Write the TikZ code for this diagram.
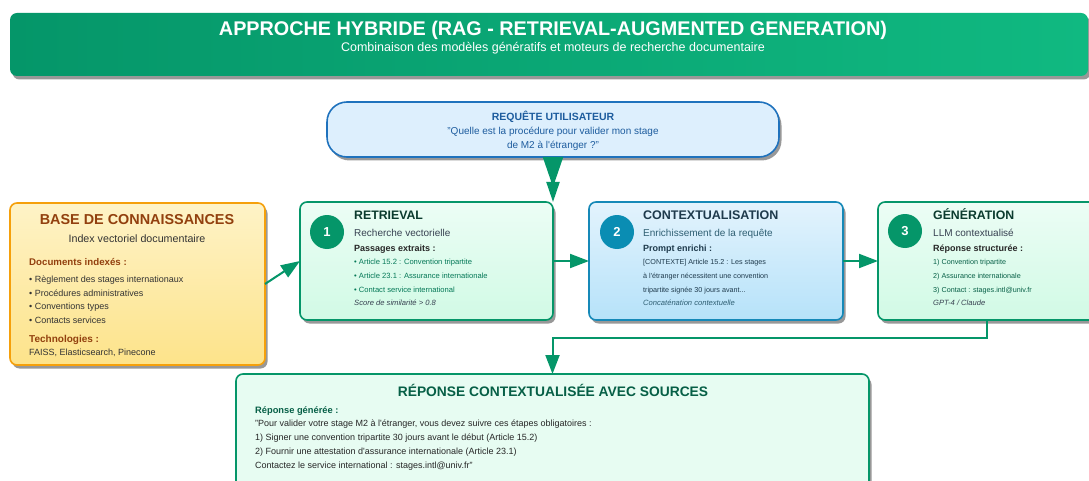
\documentclass[tikz,border=0pt]{standalone}
\usepackage{fontspec}
\setmainfont{Liberation Sans}
\usetikzlibrary{shadows,arrows.meta}

\definecolor{emerald}{HTML}{059669}
\definecolor{emeraldlight}{HTML}{10B981}
\definecolor{mintA}{HTML}{ECFDF5}
\definecolor{mintB}{HTML}{D1FAE5}
\definecolor{skyA}{HTML}{E3F3FD}
\definecolor{skyB}{HTML}{B6E2F9}
\definecolor{skyline}{HTML}{1689B8}
\definecolor{tealdot}{HTML}{0A8DB3}
\definecolor{reqfill}{HTML}{DDEFFD}
\definecolor{reqline}{HTML}{1F72BD}
\definecolor{reqtext}{HTML}{1D5C9E}
\definecolor{amberA}{HTML}{FEF3C7}
\definecolor{amberB}{HTML}{FDE38A}
\definecolor{amberline}{HTML}{F5A00B}
\definecolor{brown}{HTML}{92400E}
\definecolor{inkgreen}{HTML}{0B3B2E}
\definecolor{leaf}{HTML}{047857}
\definecolor{deepgreen}{HTML}{065F46}
\definecolor{slate}{HTML}{1E3A4C}
\definecolor{slatesoft}{HTML}{2F5F73}
\definecolor{greytext}{HTML}{374151}

\newcommand{\fs}[1]{\fontsize{#1}{#1}\selectfont}

\begin{document}
\begin{tikzpicture}[x=1pt,y=-1pt,
  box/.style={rounded corners=7pt, line width=1.6pt, inner sep=0pt, outer sep=0pt, anchor=north west},
  shade drop/.style={drop shadow={shadow xshift=2.5pt, shadow yshift=-3.5pt, fill=black!80, opacity=0.5}},
  % texts are placed by their baseline
  txt/.style={inner sep=0pt, anchor=base west},
  ctxt/.style={inner sep=0pt, anchor=base},
  badge/.style={circle, minimum size=34pt, inner sep=0pt, text=white, font=\bfseries\fs{13}},
  flow/.style={draw=emerald, line width=2pt, -{Triangle[width=14pt,length=19pt]}},
]
\useasboundingbox (0,0) rectangle (1089,481);
\clip (0,0) rectangle (1089,481);
\fill[white] (0,0) rectangle (1089,481);

% banner
\node[box, draw=none, left color=emerald, right color=emeraldlight,
      minimum width=1078pt, minimum height=63pt, shade drop] (hdr) at (10,13) {};
\node[ctxt, text=white, font=\bfseries\fs{19.8}] (hdrtitle) at (553,35.1)
  {APPROCHE HYBRIDE (RAG - RETRIEVAL-AUGMENTED GENERATION)};
\node[ctxt, text=white, font=\fs{12.5}] (hdrsub) at (553,52)
  {Combinaison des modèles génératifs et moteurs de recherche documentaire};

% user query
\node[box, rounded corners=20pt, draw=reqline, fill=reqfill,
      minimum width=452pt, minimum height=55pt, shade drop] (req) at (327,102) {};
\node[ctxt, text=reqtext, font=\bfseries\fs{10.5}] (reqtitle) at (553,120.8) {REQUÊTE UTILISATEUR};
\node[ctxt, text=reqtext, font=\fs{10}] (reqq1) at (553,134.2) {"Quelle est la procédure pour valider mon stage};
\node[ctxt, text=reqtext, font=\fs{10}] (reqq2) at (553,148.2) {de M2 à l\textquotesingle étranger ?"};

% knowledge base
\node[box, draw=amberline, top color=amberA, bottom color=amberB,
      minimum width=255pt, minimum height=162pt, shade drop] (kb) at (10,203) {};
\node[ctxt, text=brown, font=\bfseries\fs{14.4}] (kbtitle) at (137,224.2) {BASE DE CONNAISSANCES};
\node[ctxt, text=black!80, font=\fs{10.7}] (kbsub) at (137,242.4) {Index vectoriel documentaire};
\node[txt, text=brown, font=\bfseries\fs{9.7}] (kbdocs) at (29,265.1) {Documents indexés :};
\node[txt, text=black!80, font=\fs{9}] (kbd1) at (29,282.9) {• Règlement des stages internationaux};
\node[txt, text=black!80, font=\fs{9}] (kbd2) at (29,296.9) {• Procédures administratives};
\node[txt, text=black!80, font=\fs{9}] (kbd3) at (29,309.9) {• Conventions types};
\node[txt, text=black!80, font=\fs{9}] (kbd4) at (29,323.9) {• Contacts services};
\node[txt, text=brown, font=\bfseries\fs{10}] (kbtech) at (29,342.2) {Technologies :};
\node[txt, text=black!80, font=\fs{9}] (kbtechs) at (29,355.9) {FAISS, Elasticsearch, Pinecone};

% step 1: retrieval
\node[box, draw=emerald, top color=mintA, bottom color=mintB,
      minimum width=253pt, minimum height=118pt, shade drop] (ret) at (300,202) {};
\node[badge, fill=emerald] (retn) at (327,232) {1};
\node[txt, text=inkgreen, font=\bfseries\fs{12.3}] (rettitle) at (354,219.4) {RETRIEVAL};
\node[txt, text=greytext, font=\fs{10}] (retsub) at (354,236.2) {Recherche vectorielle};
\node[txt, text=black!85, font=\bfseries\fs{9}] (rethead) at (354,251.9) {Passages extraits :};
\node[txt, text=leaf, font=\fs{7.6}] (ret1) at (354,264.4) {• Article 15.2 : Convention tripartite};
\node[txt, text=leaf, font=\fs{7.6}] (ret2) at (354,278.4) {• Article 23.1 : Assurance internationale};
\node[txt, text=leaf, font=\fs{7.6}] (ret3) at (354,292.4) {• Contact service international};
\node[txt, text=greytext, font=\itshape\fs{7.6}] (retscore) at (354,305.4) {Score de similarité > 0.8};

% step 2: contextualisation
\node[box, draw=skyline, top color=skyA, bottom color=skyB,
      minimum width=254pt, minimum height=118pt, shade drop] (ctx) at (589,202) {};
\node[badge, fill=tealdot] (ctxn) at (617,232) {2};
\node[txt, text=slate, font=\bfseries\fs{12.5}] (ctxtitle) at (643,219.5) {CONTEXTUALISATION};
\node[txt, text=slatesoft, font=\fs{10}] (ctxsub) at (643,236.2) {Enrichissement de la requête};
\node[txt, text=slate, font=\bfseries\fs{9}] (ctxhead) at (643,251.9) {Prompt enrichi :};
\node[txt, text=slate, font=\fs{7.2}] (ctx1) at (643,264.3) {[CONTEXTE] Article 15.2 : Les stages};
\node[txt, text=slate, font=\fs{7.2}] (ctx2) at (643,278.3) {à l\textquotesingle étranger nécessitent une convention};
\node[txt, text=slate, font=\fs{7.2}] (ctx3) at (643,292.3) {tripartite signée 30 jours avant...};
\node[txt, text=slatesoft, font=\itshape\fs{7.6}] (ctxnote) at (643,305.4) {Concaténation contextuelle};

% step 3: generation
\node[box, draw=emerald, top color=mintA, bottom color=mintB,
      minimum width=218pt, minimum height=118pt, shade drop] (gen) at (878,202) {};
\node[badge, fill=emerald] (genn) at (905,231) {3};
\node[txt, text=inkgreen, font=\bfseries\fs{12.3}] (gentitle) at (933,219.4) {GÉNÉRATION};
\node[txt, text=greytext, font=\fs{10}] (gensub) at (933,236.2) {LLM contextualisé};
\node[txt, text=black!85, font=\bfseries\fs{9}] (genhead) at (933,251.9) {Réponse structurée :};
\node[txt, text=deepgreen, font=\fs{7.2}] (gen1) at (933,264.3) {1) Convention tripartite};
\node[txt, text=deepgreen, font=\fs{7.2}] (gen2) at (933,278.3) {2) Assurance internationale};
\node[txt, text=deepgreen, font=\fs{7.2}] (gen3) at (933,292.3) {3) Contact : stages.intl@univ.fr};
\node[txt, text=greytext, font=\itshape\fs{7.6}] (gennote) at (933,305.4) {GPT-4 / Claude};

% final answer
\node[box, draw=emerald, fill=mintA!80!mintB,
      minimum width=633pt, minimum height=115pt, shade drop] (resp) at (236,374) {};
\node[ctxt, text=deepgreen, font=\bfseries\fs{13.8}] (resptitle) at (553,396) {RÉPONSE CONTEXTUALISÉE AVEC SOURCES};
\node[txt, text=deepgreen, font=\bfseries\fs{9.3}] (resphead) at (255,413) {Réponse générée :};
\node[txt, text=black!85, font=\fs{9}] (resp1) at (255,426.9) {"Pour valider votre stage M2 à l\textquotesingle étranger, vous devez suivre ces étapes obligatoires :};
\node[txt, text=black!85, font=\fs{9}] (resp2) at (255,440.9) {1) Signer une convention tripartite 30 jours avant le début (Article 15.2)};
\node[txt, text=black!85, font=\fs{9}] (resp3) at (255,454.9) {2) Fournir une attestation d\textquotesingle assurance internationale (Article 23.1)};
\node[txt, text=black!85, font=\fs{9}] (resp4) at (255,468.9) {Contactez le service international : stages.intl@univ.fr"};

% connectors
\draw[draw=emerald, line width=2pt,
      {Triangle[reversed,width=20pt,length=30pt]}-{Triangle[width=13pt,length=20pt]}]
  (req.south) -- (ret.north east);
\draw[flow] (kb.east) -- (ret.west);
\draw[flow] (ret.east) -- (ctx.west);
\draw[flow] (ctx.east) -- (gen.west);
\draw[flow] (gen.south) -- ++(0,18) -| (resp.north);
\end{tikzpicture}
\end{document}
